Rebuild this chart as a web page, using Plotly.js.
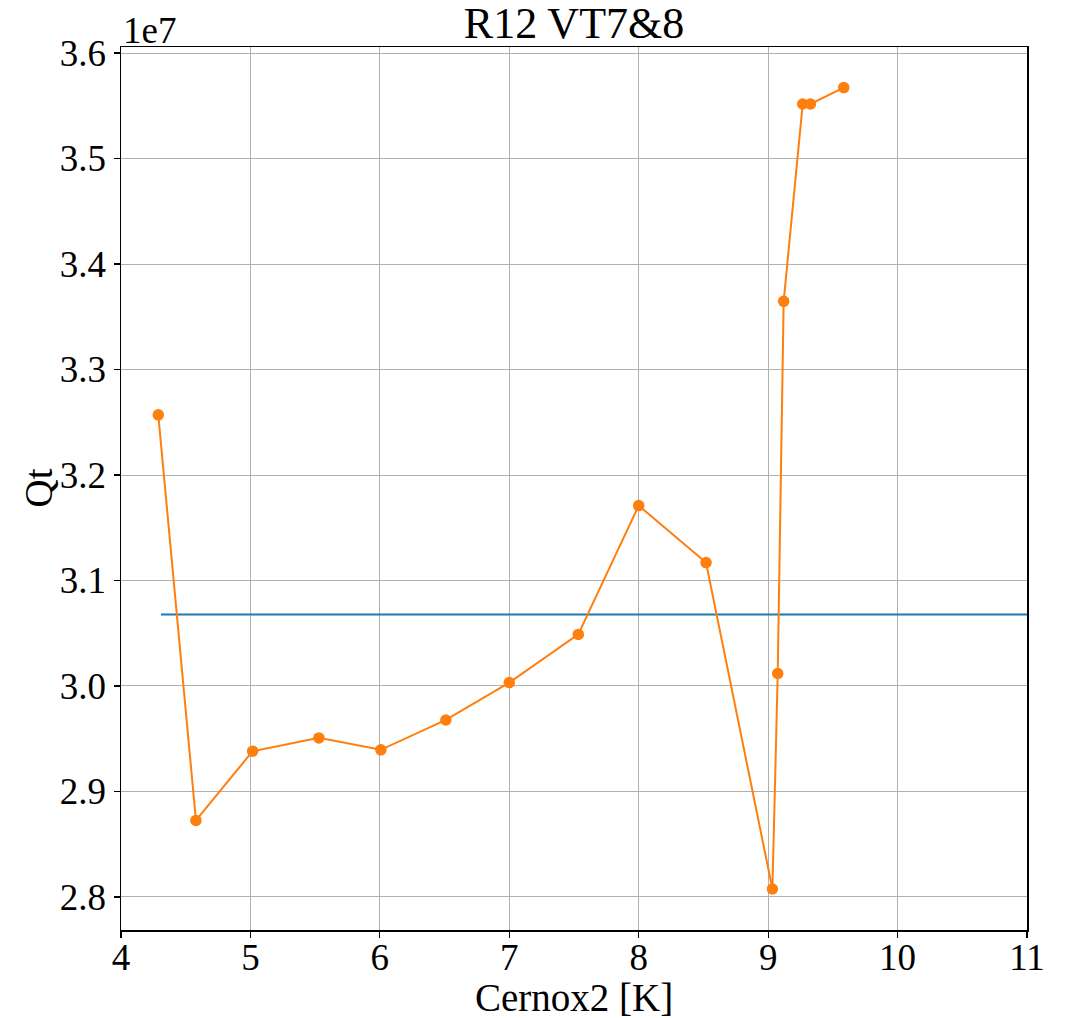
<!DOCTYPE html>
<html>
<head>
<meta charset="utf-8">
<script src="https://cdn.plot.ly/plotly-3.0.1.min.js"></script>
<style>
  html, body { margin: 0; padding: 0; background: #ffffff; }
  #chart { width: 1066px; height: 1018px; }
</style>
</head>
<body>
<div id="chart"></div>
<script>
// Cernox2 temperature readings [K]
const cernox2 = [4.288, 4.579, 5.017, 5.529, 6.008, 6.51, 7.00, 7.533, 8.00, 8.52,
                 9.033, 9.074, 9.120, 9.267, 9.327, 9.584];
// Qt values
const qt = [3.257e7, 2.8726e7, 2.9382e7, 2.9508e7, 2.9395e7, 2.9678e7, 3.0032e7, 3.0489e7,
            3.171e7, 3.117e7, 2.8076e7, 3.0118e7, 3.3646e7, 3.5517e7, 3.5517e7, 3.5672e7];
// reference level
const refX = [4.309, 11.6];
const refQt = [3.0678e7, 3.0678e7];

const yTicks = [2.8, 2.9, 3.0, 3.1, 3.2, 3.3, 3.4, 3.5, 3.6];
const xTicks = [4, 5, 6, 7, 8, 9, 10, 11];

const scale = 1e7;
const FONT = "Liberation Serif, Times New Roman, serif";

const traces = [
  {
    x: refX,
    y: refQt.map(v => v / scale),
    mode: "lines",
    line: { color: "#1f77b4", width: 2 },
    hoverinfo: "skip",
    showlegend: false
  },
  {
    x: cernox2,
    y: qt.map(v => v / scale),
    mode: "lines+markers",
    line: { color: "#ff7f0e", width: 2 },
    marker: { color: "#ff7f0e", size: 11.5 },
    showlegend: false
  }
];

const axisCommon = {
  showline: true,
  linecolor: "#000000",
  linewidth: 1.5,
  mirror: true,
  ticks: "outside",
  ticklen: 6,
  tickwidth: 1.2,
  tickcolor: "#000000",
  showgrid: true,
  gridcolor: "#b0b0b0",
  gridwidth: 1,
  zeroline: false,
  tickfont: { family: FONT, size: 37, color: "#000000" }
};

const layout = {
  width: 1066,
  height: 1018,
  paper_bgcolor: "#ffffff",
  plot_bgcolor: "#ffffff",
  margin: { l: 121, r: 39, t: 47, b: 88 },
  title: {
    text: "R12 VT7&8",
    font: { family: FONT, size: 44, color: "#000000" },
    x: 0.5385,
    xanchor: "center",
    y: 0.978,
    yanchor: "middle"
  },
  xaxis: Object.assign({}, axisCommon, {
    range: [4, 11],
    tickvals: xTicks,
    ticktext: xTicks.map(String),
    ticklabelstandoff: -12
  }),
  yaxis: Object.assign({}, axisCommon, {
    range: [2.7687, 3.6057],
    tickvals: yTicks,
    ticktext: yTicks.map(v => v.toFixed(1))
  }),
  annotations: [
    {
      // axis offset label
      text: "1e7",
      xref: "paper", yref: "paper",
      x: 0, y: 1,
      xanchor: "left", yanchor: "bottom",
      showarrow: false,
      font: { family: FONT, size: 37, color: "#000000" },
      yshift: -6
    },
    {
      // x axis title
      text: "Cernox2 [K]",
      xref: "paper", yref: "paper",
      x: 0.5, y: 0,
      xanchor: "center", yanchor: "middle",
      showarrow: false,
      font: { family: FONT, size: 39, color: "#000000" },
      yshift: -67
    },
    {
      // y axis title
      text: "Qt",
      xref: "paper", yref: "paper",
      x: 0, y: 0.5,
      xanchor: "center", yanchor: "middle",
      textangle: -90,
      showarrow: false,
      font: { family: FONT, size: 39, color: "#000000" },
      xshift: -83,
      yshift: 0
    }
  ]
};

Plotly.newPlot("chart", traces, layout, { displayModeBar: false, staticPlot: true });
</script>
</body>
</html>
